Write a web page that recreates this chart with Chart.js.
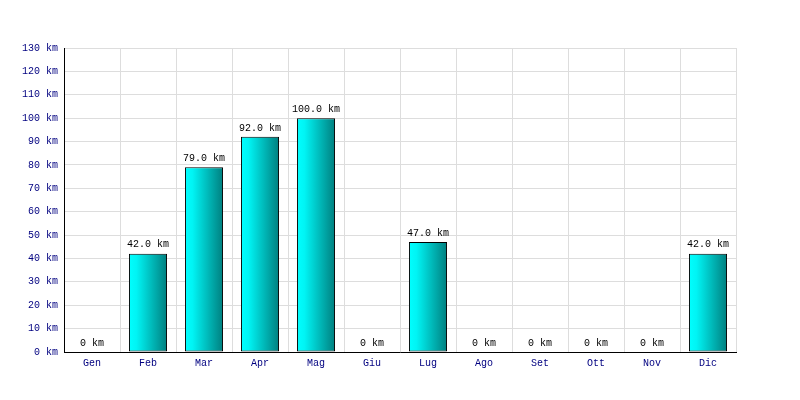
<!DOCTYPE html>
<html>
<head>
<meta charset="utf-8">
<script src="https://cdn.jsdelivr.net/npm/chart.js@4"></script>
<style>
  body { margin: 0; background: #fff; }
  #wrap { width: 800px; height: 400px; }
</style>
</head>
<body>
<div id="wrap"><canvas id="kmChart" width="800" height="400"></canvas></div>
<script>
// Monthly distance
const months = ['Gen', 'Feb', 'Mar', 'Apr', 'Mag', 'Giu', 'Lug', 'Ago', 'Set', 'Ott', 'Nov', 'Dic'];
const kmValues = [0, 42, 79, 92, 100, 0, 47, 0, 0, 0, 0, 42];
const yMax = 130;
const yStep = 10;

const monoFont = { family: "'Liberation Mono', monospace", size: 10 };
const barPct = 0.68;

// horizontal cyan -> teal gradient per bar
function barGradient(context) {
    const chart = context.chart;
    const xScale = chart.scales.x;
    if (!xScale || context.dataIndex === undefined) return '#00cccc';
    const cx = xScale.getPixelForValue(context.dataIndex);
    const half = (xScale.width / months.length) * barPct / 2;
    if (!isFinite(cx) || !isFinite(half) || half <= 0) return '#00cccc';
    const g = chart.ctx.createLinearGradient(cx - half, 0, cx + half, 0);
    g.addColorStop(0, '#00ffff');
    g.addColorStop(0.2, '#00f4f4');
    g.addColorStop(1, '#007f7f');
    return g;
}

// value labels above the bars
const valueLabels = {
    id: 'valueLabels',
    afterDatasetsDraw(chart) {
        const ctx = chart.ctx;
        const meta = chart.getDatasetMeta(0);
        ctx.save();
        ctx.font = "10px 'Liberation Mono', monospace";
        ctx.fillStyle = '#000000';
        ctx.textAlign = 'center';
        ctx.textBaseline = 'bottom';
        meta.data.forEach((bar, i) => {
            const v = kmValues[i];
            const txt = v === 0 ? '0 km' : v.toFixed(1) + ' km';
            ctx.fillText(txt, bar.x, bar.y - 4);
        });
        ctx.restore();
    }
};

const kmCtx = document.getElementById('kmChart').getContext('2d');
const kmChart = new Chart(kmCtx, {
    type: 'bar',
    data: {
        labels: months,
        datasets: [
            {
                data: kmValues,
                backgroundColor: barGradient,
                borderColor: '#000000',
                borderWidth: 1,
                borderSkipped: false,
                barPercentage: barPct,
                categoryPercentage: 1
            }
        ]
    },
    options: {
        responsive: false,
        animation: false,
        layout: { padding: { top: 48, right: 64, left: 0, bottom: 0 } },
        plugins: {
            legend: { display: false },
            tooltip: { enabled: false }
        },
        scales: {
            y: {
                min: 0,
                max: yMax,
                ticks: {
                    stepSize: yStep,
                    color: '#000080',
                    font: monoFont,
                    padding: 6,
                    callback: v => v + ' km'
                },
                grid: { color: '#dddddd', drawTicks: false },
                border: { color: '#000000' },
                afterFit(scale) { scale.width = 64; }
            },
            x: {
                ticks: {
                    color: '#000080',
                    font: monoFont,
                    padding: 5,
                    maxRotation: 0
                },
                grid: { color: '#dddddd', drawTicks: false, offset: true },
                border: { color: '#000000' },
                afterFit(scale) { scale.height = 48; }
            }
        }
    },
    plugins: [valueLabels]
});
kmChart.update();
</script>
</body>
</html>
